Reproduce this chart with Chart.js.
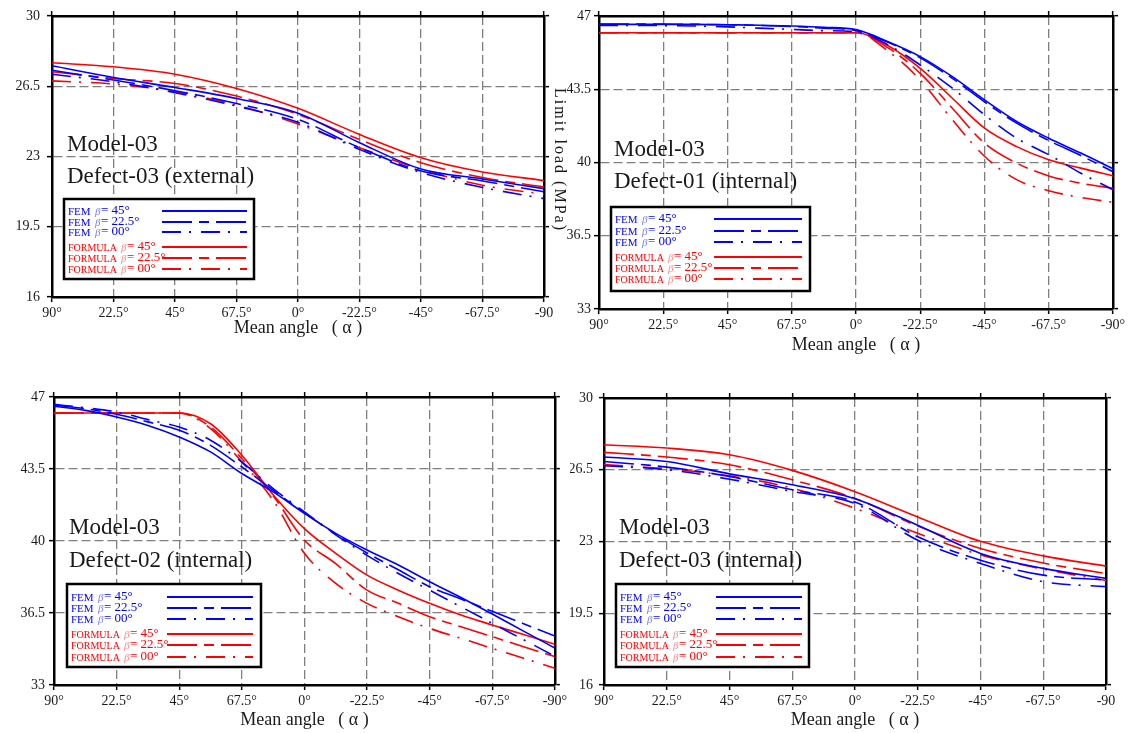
<!DOCTYPE html>
<html>
<head>
<meta charset="utf-8">
<title>Limit load - Model-03</title>
<script src="https://cdn.jsdelivr.net/npm/chart.js@4.4.1/dist/chart.umd.min.js"></script>
<style>
  body { margin: 0; background: #fff; width: 1131px; height: 733px; position: relative; overflow: hidden; }
  canvas { position: absolute; }
</style>
</head>
<body>
<canvas id="grafico1" width="570" height="345" style="left:0px;top:0px"></canvas>
<canvas id="grafico2" width="591" height="360" style="left:540px;top:0px"></canvas>
<canvas id="grafico3" width="570" height="361" style="left:0px;top:372px"></canvas>
<canvas id="grafico4" width="561" height="361" style="left:570px;top:372px"></canvas>
<script>
// angulos medios (alpha) donde se leyeron los valores
const alpha9 = [90, 67.5, 45, 22.5, 0, -22.5, -45, -67.5, -90];
const alpha17 = [90, 78.75, 67.5, 56.25, 45, 33.75, 22.5, 11.25, 0, -11.25, -22.5, -33.75, -45, -56.25, -67.5, -78.75, -90];

// etiquetas del eje x tal como aparecen en la figura
const etiquetasX = ['90°', '22.5°', '45°', '67.5°', '0°', '-22.5°', '-45°', '-67.5°', '-90°'];
const etiquetasXCorta = ['90°', '22.5°', '45°', '67.5°', '0°', '-22.5°', '-45°', '-67.5°', '-90'];

// leyenda
const nombresSerie = ['FEM', 'FEM', 'FEM', 'FORMULA', 'FORMULA', 'FORMULA'];
const betas = ['45°', '22.5°', '00°', '45°', '22.5°', '00°'];

// Defect-03 (external)
const p1Fem45 = [27.52, 26.94, 26.44, 25.89, 25.16, 23.69, 22.38, 21.88, 21.4];
const p1Fem22 = [27.3, 26.81, 26.28, 25.64, 24.85, 23.44, 22.28, 21.78, 21.24];
const p1Fem00 = [27.1, 26.72, 26.18, 25.51, 24.7, 23.35, 22.2, 21.46, 20.9];
const p1For45 = [27.67, 27.47, 27.1, 26.39, 25.4, 24.1, 22.94, 22.23, 21.8];
const p1For22 = [27.22, 26.89, 26.64, 26.01, 25.1, 23.85, 22.69, 21.95, 21.48];
const p1For00 = [26.77, 26.61, 26.23, 25.56, 24.62, 23.44, 22.36, 21.57, 21.12];

// Defect-01 (internal)
const p2Fem45 = [46.6, 46.6, 46.6, 46.6, 46.58, 46.56, 46.52, 46.46, 46.35, 45.77, 45.06, 44.1, 42.99, 41.96, 41.16, 40.45, 39.7];
const p2Fem22 = [46.62, 46.62, 46.61, 46.6, 46.58, 46.55, 46.5, 46.42, 46.3, 45.74, 45.0, 44.02, 42.9, 41.88, 41.05, 40.33, 39.56];
const p2Fem00 = [46.55, 46.55, 46.54, 46.52, 46.48, 46.42, 46.36, 46.3, 46.25, 45.62, 44.66, 43.55, 42.28, 41.16, 40.37, 39.49, 38.7];
const p2For45 = [46.2, 46.2, 46.2, 46.2, 46.2, 46.2, 46.2, 46.2, 46.2, 45.58, 44.5, 43.07, 41.64, 40.76, 40.13, 39.73, 39.36];
const p2For22 = [46.2, 46.2, 46.2, 46.2, 46.2, 46.2, 46.2, 46.2, 46.2, 45.48, 44.26, 42.59, 40.92, 39.97, 39.36, 39.01, 38.77];
const p2For00 = [46.2, 46.2, 46.2, 46.2, 46.2, 46.2, 46.2, 46.2, 46.2, 45.32, 43.94, 42.04, 40.3, 39.18, 38.65, 38.33, 38.1];

// Defect-02 (internal)
const p3Fem45 = [46.55, 46.35, 46.03, 45.62, 45.06, 44.33, 43.28, 42.39, 41.34, 40.37, 39.56, 38.83, 38.02, 37.25, 36.45, 35.62, 34.8];
const p3Fem22 = [46.6, 46.43, 46.16, 45.79, 45.38, 44.65, 43.6, 42.47, 41.37, 40.33, 39.42, 38.6, 37.78, 37.18, 36.58, 35.98, 35.38];
const p3Fem00 = [46.64, 46.48, 46.27, 45.9, 45.54, 44.9, 43.84, 42.55, 41.42, 40.3, 39.3, 38.42, 37.61, 36.8, 36.0, 35.2, 34.4];
const p3For45 = [46.22, 46.22, 46.22, 46.22, 46.22, 45.7, 44.17, 42.25, 40.6, 39.4, 38.34, 37.61, 36.97, 36.4, 35.92, 35.45, 34.98];
const p3For22 = [46.22, 46.22, 46.22, 46.22, 46.22, 45.54, 44.0, 42.2, 40.04, 38.9, 37.61, 36.97, 36.32, 35.83, 35.35, 34.86, 34.38];
const p3For00 = [46.22, 46.22, 46.22, 46.22, 46.22, 45.46, 43.84, 41.98, 39.4, 37.94, 36.97, 36.32, 35.75, 35.27, 34.78, 34.3, 33.81];

// Defect-03 (internal)
const p4Fem45 = [27.12, 26.9, 26.3, 25.77, 25.09, 23.79, 22.42, 21.69, 21.2];
const p4Fem22 = [26.9, 26.63, 26.17, 25.52, 24.93, 23.23, 22.09, 21.36, 21.12];
const p4Fem00 = [26.7, 26.5, 26.04, 25.44, 24.85, 23.06, 21.93, 21.04, 20.8];
const p4For45 = [27.72, 27.56, 27.23, 26.47, 25.43, 24.2, 23.01, 22.3, 21.8];
const p4For22 = [27.35, 27.12, 26.74, 26.01, 25.1, 23.75, 22.66, 21.95, 21.44];
const p4For00 = [26.75, 26.55, 26.2, 25.6, 24.62, 23.4, 22.35, 21.65, 21.1];

// estilo de cada serie (mismo orden que la leyenda)
const AZUL = '#0000ff', ROJO = '#ff0000';
const estilos = [
    { color: AZUL, claro: '#7c7cff', dash: [] },
    { color: AZUL, claro: '#7c7cff', dash: [30, 7, 10, 7] },
    { color: AZUL, claro: '#7c7cff', dash: [19, 8, 2, 10] },
    { color: ROJO, claro: '#ff8c8c', dash: [] },
    { color: ROJO, claro: '#ff8c8c', dash: [30, 7, 10, 7] },
    { color: ROJO, claro: '#ff8c8c', dash: [19, 8, 2, 10] }
];

const fuente = '"Liberation Serif", "DejaVu Serif", serif';

// wl/wr/ht/hb: tamaño de los ejes para que el area del grafico caiga donde en la figura
const paneles = [
    { id: 'grafico1', yMin: 16, yMax: 30, alpha: alpha9, etiquetas: etiquetasXCorta,
      series: [p1Fem45, p1Fem22, p1Fem00, p1For45, p1For22, p1For00],
      wl: 52, wr: 26, ht: 16, hb: 48, padY: 7, padTitulo: 6,
      modelo: 'Model-03', defecto: 'Defect-03 (external)', txtY: [135, 167],
      ley: { dx: 12, dy: 183, w: 190, h: 80, lx0: 98, lx1: 183, filas: [12, 23, 33, 48, 59, 70] } },
    { id: 'grafico2', yMin: 33, yMax: 47, alpha: alpha17, etiquetas: etiquetasX,
      series: [p2Fem45, p2Fem22, p2Fem00, p2For45, p2For22, p2For00],
      wl: 59, wr: 18, ht: 16, hb: 51, padY: 3, padTitulo: 4,
      modelo: 'Model-03', defecto: 'Defect-01 (internal)', txtY: [140, 172],
      ley: { dx: 12, dy: 191, w: 199, h: 84, lx0: 103, lx1: 191, filas: [12, 24, 35, 50, 61, 72] },
      tituloY: 'Limit load (MPa)' },
    { id: 'grafico3', yMin: 33, yMax: 47, alpha: alpha17, etiquetas: etiquetasX,
      series: [p3Fem45, p3Fem22, p3Fem00, p3For45, p3For22, p3For00],
      wl: 54, wr: 13, ht: 25, hb: 48, padY: 4, padTitulo: 2,
      modelo: 'Model-03', defecto: 'Defect-02 (internal)', txtY: [137, 170],
      ley: { dx: 13, dy: 187, w: 194, h: 83, lx0: 100, lx1: 186, filas: [13, 24, 35, 50, 61, 73] } },
    { id: 'grafico4', yMin: 16, yMax: 30, alpha: alpha9, etiquetas: etiquetasXCorta,
      series: [p4Fem45, p4Fem22, p4Fem00, p4For45, p4For22, p4For00],
      wl: 34, wr: 25, ht: 26, hb: 48, padY: 6, padTitulo: 2,
      modelo: 'Model-03', defecto: 'Defect-03 (internal)', txtY: [136, 169],
      ley: { dx: 12, dy: 186, w: 193, h: 83, lx0: 100, lx1: 186, filas: [13, 24, 35, 50, 61, 73] } }
];

// textos Model/Defect, leyenda y titulo vertical
function dibujarExtras(p) {
    return {
        id: 'extras',
        afterDatasetsDraw(chart) {
            const ctx = chart.ctx;
            const a = chart.chartArea;
            ctx.save();
            ctx.fillStyle = '#1a1a1a';
            ctx.font = '23px ' + fuente;
            ctx.textAlign = 'left';
            ctx.textBaseline = 'alphabetic';
            ctx.fillText(p.modelo, a.left + 15, a.top + p.txtY[0]);
            ctx.fillText(p.defecto, a.left + 15, a.top + p.txtY[1]);

            const L = p.ley;
            const bx = a.left + L.dx, by = a.top + L.dy;
            ctx.fillStyle = '#fff';
            ctx.fillRect(bx, by, L.w, L.h);
            ctx.lineWidth = 2.5;
            ctx.strokeStyle = '#000';
            ctx.strokeRect(bx, by, L.w, L.h);

            ctx.textBaseline = 'middle';
            for (let i = 0; i < nombresSerie.length; i++) {
                const y = by + L.filas[i];
                const est = estilos[i];
                ctx.fillStyle = est.color;
                ctx.font = (i < 3 ? '11px ' : '10px ') + fuente;
                ctx.fillText(nombresSerie[i], bx + 4, y + 1);
                const xb = bx + (i < 3 ? 31 : 57);
                ctx.fillStyle = est.claro;
                ctx.font = 'italic 11px ' + fuente;
                ctx.fillText('β', xb, y + 1);
                ctx.fillStyle = est.color;
                ctx.font = '13px ' + fuente;
                ctx.fillText('= ' + betas[i], xb + 6, y);

                ctx.beginPath();
                ctx.setLineDash(est.dash);
                ctx.lineWidth = 2;
                ctx.strokeStyle = est.color;
                ctx.moveTo(bx + L.lx0, y);
                ctx.lineTo(bx + L.lx1, y);
                ctx.stroke();
                ctx.setLineDash([]);
            }

            if (p.tituloY) {
                ctx.translate(19, 160);
                ctx.rotate(Math.PI / 2);
                ctx.fillStyle = '#1a1a1a';
                ctx.font = '16px ' + fuente;
                ctx.letterSpacing = '2px';
                ctx.textAlign = 'center';
                ctx.textBaseline = 'middle';
                ctx.fillText(p.tituloY, 0, 0);
            }
            ctx.restore();
        }
    };
}

function ejeX(p, principal) {
    return {
        type: 'linear',
        position: principal ? 'bottom' : 'top',
        min: -90,
        max: 90,
        reverse: true,
        afterFit: s => { s.height = principal ? p.hb : p.ht; },
        grid: {
            drawOnChartArea: principal,
            color: '#7f7f7f',
            lineWidth: 1.3,
            drawTicks: true,
            tickLength: 5,
            tickColor: '#000',
            tickWidth: 1.5,
            tickBorderDash: []
        },
        border: { display: true, color: '#000', width: 2.5, dash: [9, 4] },
        ticks: {
            display: principal,
            stepSize: 22.5,
            autoSkip: false,
            maxRotation: 0,
            padding: 3,
            color: '#1a1a1a',
            font: { family: fuente, size: 14 },
            callback: v => p.etiquetas[Math.round((90 - v) / 22.5)]
        },
        title: {
            display: principal,
            text: 'Mean angle   ( α )',
            color: '#1a1a1a',
            font: { family: fuente, size: 18 },
            padding: { top: 0, bottom: p.padTitulo }
        }
    };
}

function ejeY(p, principal) {
    return {
        type: 'linear',
        position: principal ? 'left' : 'right',
        min: p.yMin,
        max: p.yMax,
        afterFit: s => { s.width = principal ? p.wl : p.wr; },
        grid: {
            drawOnChartArea: principal,
            color: '#7f7f7f',
            lineWidth: 1.3,
            drawTicks: true,
            tickLength: 5,
            tickColor: '#000',
            tickWidth: 1.5,
            tickBorderDash: []
        },
        border: { display: true, color: '#000', width: 2.5, dash: [9, 4] },
        ticks: {
            display: principal,
            stepSize: 3.5,
            padding: p.padY,
            color: '#1a1a1a',
            font: { family: fuente, size: 14 }
        }
    };
}

function crearGrafico(p) {
    const datasets = p.series.map((vals, i) => ({
        label: nombresSerie[i] + ' β = ' + betas[i],
        data: p.alpha.map((a, k) => ({ x: a, y: vals[k] })),
        borderColor: estilos[i].color,
        borderDash: estilos[i].dash,
        borderWidth: 1.6,
        pointRadius: 0,
        fill: false,
        cubicInterpolationMode: 'monotone',
        xAxisID: 'x',
        yAxisID: 'y'
    }));

    return new Chart(document.getElementById(p.id), {
        type: 'line',
        data: { datasets: datasets },
        options: {
            responsive: false,
            animation: false,
            devicePixelRatio: 1,
            layout: { padding: 0 },
            plugins: {
                legend: { display: false },
                tooltip: { enabled: false }
            },
            scales: {
                x: ejeX(p, true),
                xTop: ejeX(p, false),
                y: ejeY(p, true),
                yRight: ejeY(p, false)
            }
        },
        plugins: [dibujarExtras(p)]
    });
}

paneles.forEach(p => crearGrafico(p));
</script>
</body>
</html>
